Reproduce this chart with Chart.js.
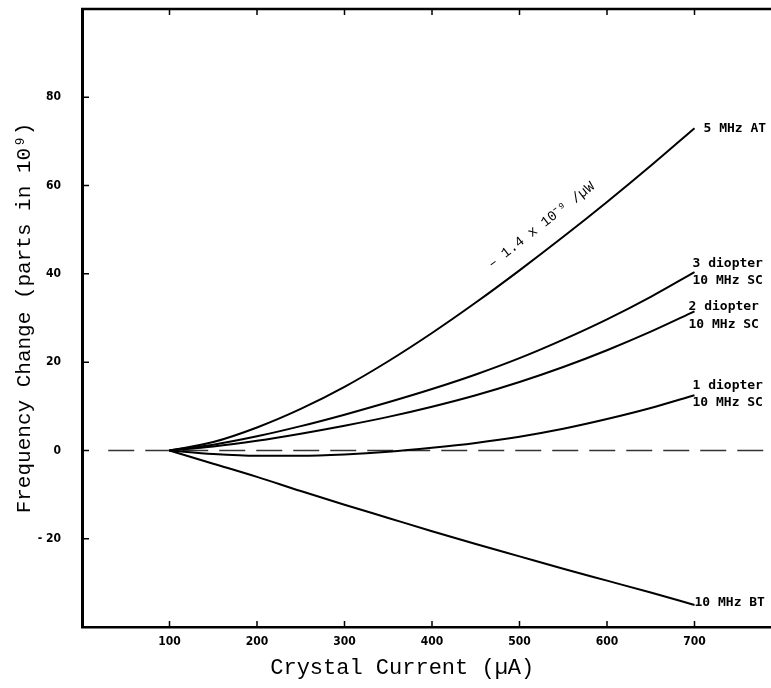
<!DOCTYPE html>
<html>
<head>
<meta charset="utf-8">
<script src="https://cdn.jsdelivr.net/npm/chart.js@4.4.1/dist/chart.umd.min.js"></script>
<style>
  html, body { margin: 0; padding: 0; background: #fff; overflow: hidden; }
  #wrap { width: 800px; height: 688px; }
</style>
</head>
<body>
<div id="wrap"><canvas id="chart"></canvas></div>
<script>
// Data (crystal current in µA, frequency change in parts in 10^9)
const current = [100, 150, 200, 250, 300, 350, 400, 450, 500, 550, 600, 650, 700];
const at5MHz = [0, 1.9, 5.2, 9.4, 14.4, 20.2, 26.6, 33.5, 40.8, 48.4, 56.3, 64.5, 73];
const sc3Diopter = [0, 1.3, 3.2, 5.5, 8.1, 10.9, 13.9, 17.2, 20.9, 25.1, 29.7, 34.8, 40.4];
const sc2Diopter = [0, 0.9, 2.2, 3.8, 5.6, 7.6, 9.9, 12.5, 15.5, 18.9, 22.7, 26.9, 31.5];
const sc1Diopter = [0, -0.8, -1.2, -1.2, -0.9, -0.3, 0.6, 1.7, 3.1, 4.9, 7.1, 9.6, 12.5];
const bt10MHz = [0, -3.0, -6.0, -9.2, -12.3, -15.3, -18.3, -21.2, -24.0, -26.8, -29.5, -32.2, -35];
const zeroLineX = [30, 800];

const xTicks = [100, 200, 300, 400, 500, 600, 700];
const yTicks = [-20, 0, 20, 40, 60, 80];

const curveLabels = [
  ["5 MHz AT"],
  ["3 diopter", "10 MHz SC"],
  ["2 diopter", "10 MHz SC"],
  ["1 diopter", "10 MHz SC"],
  ["10 MHz BT"]
];

// Label placement next to each curve end (dx, line offsets)
const labelPlace = [
  { dx: 9, dy: [0] },
  { dx: -2, dy: [-8, 9] },
  { dx: -6, dy: [-5, 13] },
  { dx: -2, dy: [-10, 7] },
  { dx: 0, dy: [-2] }
];

const toPoints = (ys) => current.map((c, i) => ({ x: c, y: ys[i] }));

const curve = (ys) => ({
  data: toPoints(ys),
  borderColor: "#000",
  borderWidth: 2,
  pointRadius: 0,
  cubicInterpolationMode: "monotone",
  fill: false
});

// Frame top, inward ticks, curve labels, titles
const decorations = {
  id: "decorations",
  afterDraw(chart) {
    const { ctx, chartArea: a, scales: { x, y } } = chart;
    ctx.save();
    ctx.strokeStyle = "#000";
    ctx.lineWidth = 2.5;
    ctx.beginPath();
    ctx.moveTo(a.left - 1, a.top);
    ctx.lineTo(a.right, a.top);
    ctx.stroke();

    ctx.lineWidth = 1.5;
    ctx.beginPath();
    xTicks.forEach(v => {
      const px = x.getPixelForValue(v);
      ctx.moveTo(px, a.bottom);
      ctx.lineTo(px, a.bottom - 6);
      ctx.moveTo(px, a.top);
      ctx.lineTo(px, a.top + 6);
    });
    yTicks.forEach(v => {
      const py = y.getPixelForValue(v);
      ctx.moveTo(a.left, py);
      ctx.lineTo(a.left + 7, py);
    });
    ctx.stroke();

    ctx.fillStyle = "#000";
    ctx.font = "bold 13px 'DejaVu Sans Mono'";
    ctx.textAlign = "left";
    ctx.textBaseline = "middle";
    curveLabels.forEach((lines, i) => {
      const pts = chart.getDatasetMeta(i).data;
      const end = pts[pts.length - 1];
      lines.forEach((t, j) => {
        ctx.fillText(t, end.x + labelPlace[i].dx, end.y + labelPlace[i].dy[j]);
      });
    });

    // slope note along the AT curve
    ctx.save();
    ctx.translate(x.getPixelForValue(525), y.getPixelForValue(51));
    ctx.rotate(-38 * Math.PI / 180);
    ctx.font = "14px 'Liberation Mono'";
    ctx.textAlign = "center";
    ctx.fillText("\u2013 1.4 x 10\u207B\u2079 /\u00B5W", 0, 0);
    ctx.restore();

    ctx.font = "22px 'Liberation Mono'";
    ctx.textAlign = "center";
    ctx.fillText("Crystal Current (\u00B5A)", x.getPixelForValue(366), 668);
    ctx.restore();
  }
};

const datasets = [at5MHz, sc3Diopter, sc2Diopter, sc1Diopter, bt10MHz].map(curve);
datasets.push({
  data: zeroLineX.map(v => ({ x: v, y: 0 })),
  borderColor: "#333",
  borderWidth: 1.5,
  borderDash: [26, 11],
  pointRadius: 0
});

new Chart(document.getElementById("chart"), {
  type: "line",
  data: { datasets },
  plugins: [decorations],
  options: {
    responsive: true,
    maintainAspectRatio: false,
    animation: false,
    layout: { padding: { top: 9, right: 18, left: 0, bottom: 0 } },
    plugins: { legend: { display: false }, tooltip: { enabled: false } },
    scales: {
      x: {
        type: "linear",
        min: 0,
        max: 800,
        afterBuildTicks: s => { s.ticks = xTicks.map(v => ({ value: v })); },
        afterFit: s => { s.height = 61; s.paddingLeft = 0; s.paddingRight = 0; },
        grid: { display: false, drawTicks: false },
        border: { display: true, color: "#000", width: 2.5 },
        ticks: {
          color: "#000",
          padding: 8,
          maxRotation: 0,
          font: { family: "'DejaVu Sans Condensed'", weight: "bold", size: 12 }
        }
      },
      y: {
        min: -40,
        max: 100,
        afterBuildTicks: s => { s.ticks = yTicks.map(v => ({ value: v })); },
        afterFit: s => { s.width = 82; s.paddingTop = 0; s.paddingBottom = 0; },
        grid: { display: false, drawTicks: false },
        border: { display: true, color: "#000", width: 3 },
        ticks: {
          color: "#000",
          padding: 21,
          font: { family: "'DejaVu Sans Condensed'", weight: "bold", size: 12 },
          callback: v => String(v).replace("-", "- ")
        },
        title: {
          display: true,
          text: "Frequency Change (parts in 10\u2079)",
          color: "#000",
          padding: { top: 12, bottom: 0 },
          font: { family: "'Liberation Mono'", size: 21 }
        }
      }
    }
  }
});
</script>
</body>
</html>
